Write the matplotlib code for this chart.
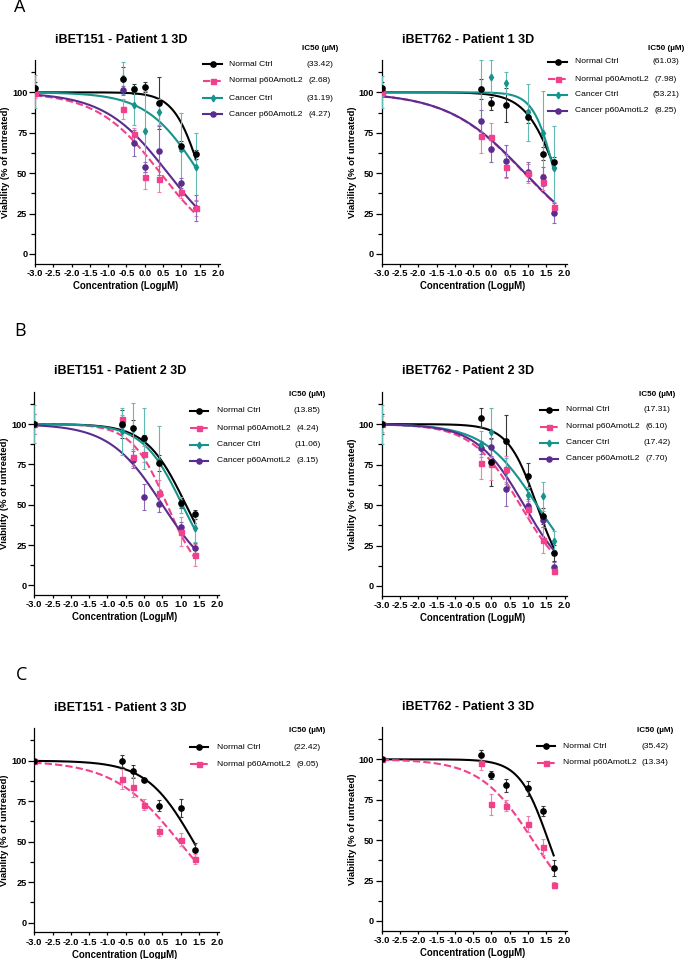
import numpy as np
import matplotlib.pyplot as plt
from matplotlib.lines import Line2D
from matplotlib.ticker import MultipleLocator

plt.rcParams['font.family'] = ['Liberation Sans', 'DejaVu Sans']

W, H = 685, 959

# -------------------------
# Data: log10 dose (uM), viability (% of untreated), error
# -------------------------
labels = ["Normal Ctrl", "Normal p60AmotL2", "Cancer Ctrl", "Cancer p60AmotL2"]

doses_151 = [-3.0, -0.6, -0.3, 0.0, 0.4, 1.0, 1.4]
doses_762 = [-3.0, -0.3, 0.0, 0.4, 1.0, 1.4, 1.7]

# Patient 1 - iBET151
p1_151_mean = [[102.5, 108.2, 102.0, 103.3, 93.2, 67.0, 61.6],
               [99.8, 89.7, 74.2, 47.4, 46.2, 38.6, 28.2],
               [100.5, 109.0, 92.0, 76.0, 87.6, 65.0, 53.6],
               [99.5, 101.2, 68.5, 54.0, 63.9, 44.1, 28.7]]
p1_151_err = [[4, 7.5, 3, 3, 16, 3, 3],
              [3, 6, 4, 7, 8, 4, 5],
              [10, 10, 12, 25, 8, 22, 21],
              [2, 3, 8, 3, 15, 3, 8]]
p1_151_ic50 = [33.42, 2.68, 31.19, 4.27]
p1_151_hill = [1.2, 0.5, 0.6, 0.5]

# Patient 1 - iBET762
p1_762_mean = [[102.5, 102.0, 93.2, 92.2, 84.8, 61.9, 56.7],
               [100.0, 73.0, 72.2, 54.0, 49.9, 44.3, 28.9],
               [100.0, 101.5, 109.7, 105.8, 87.6, 75.0, 53.0],
               [100.0, 82.3, 64.7, 57.7, 50.9, 47.8, 25.4]]
p1_762_err = [[4, 6, 4, 10.5, 4, 4, 3],
              [2, 10.5, 9, 7, 6, 5, 3],
              [10, 18.5, 10, 7, 17.5, 26, 26],
              [1.5, 7, 8, 10, 6, 6, 6]]
p1_762_ic50 = [61.03, 7.98, 53.21, 8.25]
p1_762_hill = [1.0, 0.41, 1.5, 0.41]

# Patient 2 - iBET151
p2_151_mean = [[100.0, 100.0, 97.7, 91.5, 76.0, 50.8, 44.0],
               [100.0, 102.9, 79.3, 81.6, 57.0, 33.3, 18.8],
               [100.0, 95.5, 97.0, 91.0, 77.0, 49.8, 35.7],
               [100.0, 99.4, 78.0, 55.0, 50.4, 36.4, 23.3]]
p2_151_err = [[6, 8.5, 5, 2, 5, 3, 3],
              [6, 3, 5, 5, 8, 9, 7],
              [12, 14.5, 16, 19, 22, 5, 9],
              [1, 3, 5, 8, 5, 3, 3]]
p2_151_ic50 = [13.85, 4.24, 11.06, 3.15]
p2_151_hill = [0.8, 0.9, 0.8, 0.6]

# Patient 2 - iBET762
p2_762_mean = [[100.0, 104.0, 76.7, 89.7, 67.9, 43.2, 20.6],
               [100.0, 76.3, 75.3, 72.2, 47.5, 28.4, 9.5],
               [100.0, 88.0, 94.9, 71.0, 56.2, 55.5, 28.0],
               [100.0, 85.4, 85.6, 59.7, 49.6, 40.5, 12.0]]
p2_762_err = [[6, 6, 15, 16, 8, 5, 5],
              [5, 10, 10, 8, 5, 8, 2],
              [12, 8, 15, 8, 5, 9, 6],
              [1, 4, 5, 10, 4, 4, 3]]
p2_762_ic50 = [17.31, 6.10, 17.42, 7.70]
p2_762_hill = [1.1, 0.66, 0.6, 0.67]

# Patient 3 - iBET151
p3_151_mean = [[100.0, 99.8, 93.6, 88.0, 72.2, 70.8, 44.9],
               [100.0, 88.7, 83.7, 72.8, 56.8, 51.2, 39.3]]
p3_151_err = [[1, 3.5, 4, 1, 3.5, 5.5, 4.5],
              [1, 6, 6, 3.5, 3, 4, 3]]
p3_151_ic50 = [22.42, 9.05]
p3_151_hill = [0.67, 0.48]

# Patient 3 - iBET762
p3_762_mean = [[100.0, 102.7, 90.3, 84.1, 82.0, 68.2, 33.0],
               [100.0, 97.5, 72.2, 71.3, 59.8, 46.0, 22.3]]
p3_762_err = [[1, 3, 2.5, 4, 4.5, 3, 5],
              [1, 4, 6.5, 3.5, 5, 5, 2]]
p3_762_ic50 = [35.42, 13.34]
p3_762_hill = [1.1, 0.6]

# -------------------------
# Styles
# -------------------------
colors = ["#000000", "#F0428A", "#17938E", "#5B2C8F"]
err_colors = ["#3a3a3a", "#F27DAF", "#62BAB5", "#8B6AB6"]
markers = ["o", "s", "d", "o"]
msizes = [3.8, 3.6, 3.4, 3.7]
lstyles = ["-", (0, (3.5, 1.5)), "-", "-"]

fig = plt.figure(figsize=(W / 100, H / 100), dpi=100)


def px(x, y):
    return x / W, 1 - y / H


def add_axes(left, top, bottom, width=184.8):
    return fig.add_axes([left / W, 1 - bottom / H, width / W, (bottom - top) / H])


def draw_panel(ax, title, doses, means, errs, ic50s, hills):
    n = len(means)
    xc = np.linspace(-3, max(doses), 300)
    for k in range(n):
        logic = np.log10(ic50s[k])
        yc = 100 / (1 + 10 ** ((xc - logic) * hills[k]))
        ax.plot(xc, yc, color=colors[k], lw=1.5, ls=lstyles[k], zorder=2 + k * 0.1)
        ax.errorbar(doses, means[k], yerr=errs[k], fmt="none", ecolor=err_colors[k],
                    elinewidth=0.8, capsize=1.6, capthick=0.8, zorder=3)
        ax.plot(doses, means[k], ls="none", marker=markers[k], ms=msizes[k],
                color=colors[k], mec=colors[k], zorder=4 + (3 - k) * 0.1)

    ax.set_xlim(-3, 2.05)
    ax.set_ylim(-6, 120)
    ax.spines[["top", "right"]].set_visible(False)
    for s in ["left", "bottom"]:
        ax.spines[s].set_linewidth(0.9)

    xt = np.arange(-3.0, 2.01, 0.5)
    ax.set_xticks(xt)
    ax.set_xticklabels([f"{v:.1f}" for v in xt], fontsize=6.8, fontweight="bold")
    ax.set_yticks([0, 25, 50, 75, 100])
    ax.set_yticklabels(["0", "25", "50", "75", "100"], fontsize=6.6, fontweight="bold")
    ax.yaxis.set_minor_locator(MultipleLocator(12.5))
    ax.tick_params(axis="y", which="major", length=4, width=0.9, pad=1.5)
    ax.tick_params(axis="y", which="minor", length=3, width=0.9)
    ax.tick_params(axis="x", which="major", length=2.5, width=0.9, pad=1.2)

    ax.set_ylabel("Viability (% of untreated)", fontsize=6.8, fontweight="bold")
    ax.yaxis.set_label_coords(-0.135, 0.5)
    ax.set_xlabel("Concentration (LogµM)", fontsize=6.9, fontweight="bold")
    ax.xaxis.set_label_coords(0.49, -0.085)
    ax.text(0.465, 1.10, title, transform=ax.transAxes, ha="center", va="center",
            fontsize=9, fontweight="bold")


def draw_legend(x0, x1, xt, xv, rows, yhead, ic50s):
    fig.text(*px(xv, yhead), "IC50 (µM)", ha="center", va="center",
             fontsize=5.9, fontweight="bold")
    for k, yr in enumerate(rows):
        xa, ya = px(x0, yr)
        xb, _ = px(x1, yr)
        fig.add_artist(Line2D([xa, xb], [ya, ya], color=colors[k], lw=1.5,
                              ls=lstyles[k], transform=fig.transFigure))
        fig.add_artist(Line2D([(xa + xb) / 2], [ya], ls="none", marker=markers[k],
                              ms=msizes[k], color=colors[k], transform=fig.transFigure))
        fig.text(*px(xt, yr), labels[k], ha="left", va="center", fontsize=6.1)
        fig.text(*px(xv, yr), f"({ic50s[k]:.2f})", ha="center", va="center", fontsize=6.1)


# -------------------------
# Panels
# -------------------------
ax = add_axes(35.0, 60.0, 263.7)
draw_panel(ax, "iBET151 - Patient 1 3D", doses_151, p1_151_mean, p1_151_err, p1_151_ic50, p1_151_hill)
draw_legend(203, 222, 229, 319.7, [64, 80.7, 98, 114.3], 49, p1_151_ic50)

ax = add_axes(381.7, 60.0, 263.7)
draw_panel(ax, "iBET762 - Patient 1 3D", doses_762, p1_762_mean, p1_762_err, p1_762_ic50, p1_762_hill)
draw_legend(548, 567, 575, 666, [61.7, 79.3, 95, 111], 48, p1_762_ic50)

ax = add_axes(34.3, 391.8, 595.0)
draw_panel(ax, "iBET151 - Patient 2 3D", doses_151, p2_151_mean, p2_151_err, p2_151_ic50, p2_151_hill)
draw_legend(190, 208, 217, 307.5, [410.7, 428.3, 445, 461], 395, p2_151_ic50)

ax = add_axes(381.7, 391.8, 595.7)
draw_panel(ax, "iBET762 - Patient 2 3D", doses_762, p2_762_mean, p2_762_err, p2_762_ic50, p2_762_hill)
draw_legend(540, 558, 566, 657, [410, 426.7, 442.7, 458.7], 395, p2_762_ic50)

ax = add_axes(34.3, 728.3, 932.4)
draw_panel(ax, "iBET151 - Patient 3 3D", doses_151, p3_151_mean, p3_151_err, p3_151_ic50, p3_151_hill)
draw_legend(190, 208, 217, 307.5, [747.3, 764.3], 730.7, p3_151_ic50)

ax = add_axes(381.7, 727.0, 930.7)
draw_panel(ax, "iBET762 - Patient 3 3D", doses_762, p3_762_mean, p3_762_err, p3_762_ic50, p3_762_hill)
draw_legend(537, 555, 563, 655.5, [746, 762.7], 730.7, p3_762_ic50)

# panel letters
for letter, (lx, ly) in zip("ABC", [(14, 7.5), (14, 330.5), (16, 674.5)]):
    fig.text(*px(lx, ly), letter, ha="left", va="center", fontsize=13,
             family=["Open Sans", "DejaVu Sans"])

fig.savefig("out.png", dpi=100)
